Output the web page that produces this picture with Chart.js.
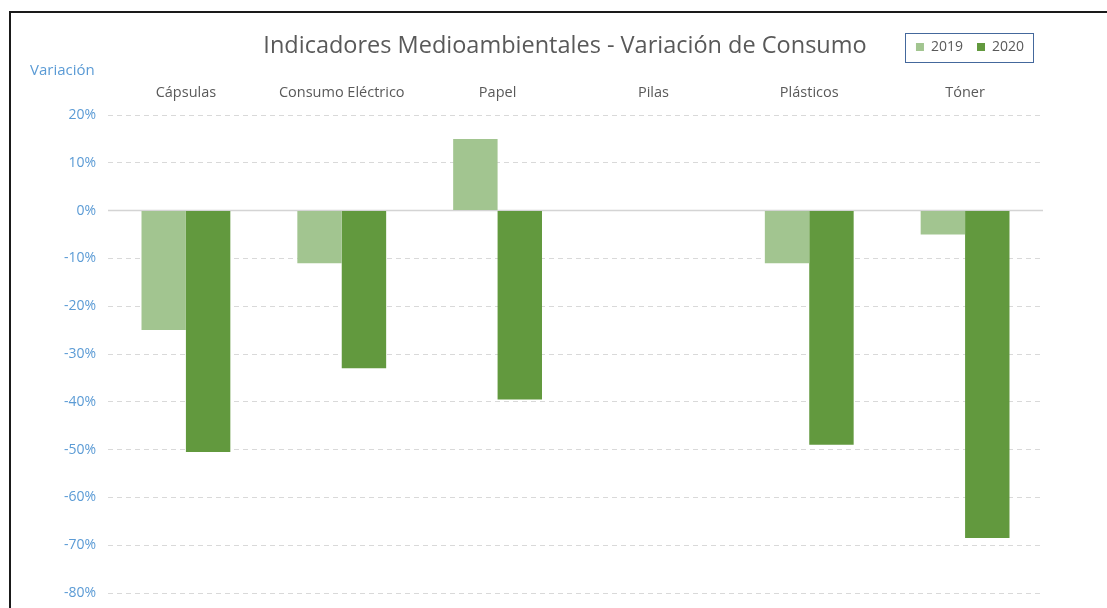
<!DOCTYPE html>
<html>
<head>
<meta charset="utf-8">
<script src="https://cdn.jsdelivr.net/npm/chart.js@4"></script>
<style>
  body { margin: 0; background: #fff; }
  #wrap { position: relative; width: 1107px; height: 608px; }
  #frame { position: absolute; left: 9px; top: 11px; width: 1110px; height: 620px;
           border-left: 2px solid #1a1a1a; border-top: 2px solid #1a1a1a; pointer-events: none; }
</style>
</head>
<body>
<div id="wrap">
  <canvas id="chart" width="1107" height="608"></canvas>
  <div id="frame"></div>
</div>
<script>
// chart data
const categories = ['Cápsulas', 'Consumo Eléctrico', 'Papel', 'Pilas', 'Plásticos', 'Tóner'];
const values2019 = [-25, -11, 15, null, -11, -5];
const values2020 = [-50.5, -33, -39.5, null, -49, -68.5];
const yTicks = [20, 10, 0, -10, -20, -30, -40, -50, -60, -70, -80];

const FONT = "'Open Sans', 'DejaVu Sans', sans-serif";

// title, axis caption, zero line and legend frame
const extras = {
    id: 'extras',
    afterLayout(chart) {
        // pull the legend items a bit in from the right edge
        chart.legend.right -= 5;
    },
    beforeDatasetsDraw(chart) {
        const ctx = chart.ctx;
        const y = chart.scales.y.getPixelForValue(0);
        ctx.save();
        ctx.strokeStyle = '#d4d4d4';
        ctx.lineWidth = 1.5;
        ctx.beginPath();
        ctx.moveTo(chart.chartArea.left, y);
        ctx.lineTo(chart.chartArea.right, y);
        ctx.stroke();
        ctx.restore();
    },
    afterDraw(chart) {
        const ctx = chart.ctx;
        ctx.save();
        ctx.fillStyle = '#595959';
        ctx.font = '23.5px ' + FONT;
        ctx.textAlign = 'center';
        ctx.textBaseline = 'middle';
        ctx.fillText('Indicadores Medioambientales - Variación de Consumo', 565, 46);
        ctx.fillStyle = '#5b9bd5';
        ctx.font = '15px ' + FONT;
        ctx.textAlign = 'left';
        ctx.fillText('Variación', 30, 71);

        const boxes = chart.legend.legendHitBoxes;
        if (boxes && boxes.length) {
            const l = Math.min(...boxes.map(b => b.left));
            const r = Math.max(...boxes.map(b => b.left + b.width));
            const t = Math.min(...boxes.map(b => b.top));
            const b = Math.max(...boxes.map(b => b.top + b.height));
            ctx.strokeStyle = '#44689c';
            ctx.lineWidth = 1;
            ctx.strokeRect(Math.round(l - 11) + 0.5, Math.round(t - 7) + 0.5, Math.round(r - l + 20), Math.round(b - t + 15));
        }
        ctx.restore();
    }
};

new Chart(document.getElementById('chart'), {
    type: 'bar',
    data: {
        labels: categories,
        datasets: [
            { label: '2019', data: values2019, backgroundColor: '#a2c590' },
            { label: '2020', data: values2020, backgroundColor: '#62993e' }
        ]
    },
    options: {
        responsive: false,
        animation: false,
        layout: { padding: { top: 26, left: 20, right: 64, bottom: 15 } },
        datasets: { bar: { barPercentage: 1, categoryPercentage: 0.57 } },
        plugins: {
            title: { display: false },
            tooltip: { enabled: false },
            legend: {
                position: 'top',
                align: 'end',
                labels: {
                    boxWidth: 8,
                    boxHeight: 8,
                    padding: 14,
                    color: '#595959',
                    font: { family: FONT, size: 14 }
                }
            }
        },
        scales: {
            x: {
                position: 'top',
                grid: { display: false },
                border: { display: false },
                ticks: { color: '#595959', font: { family: FONT, size: 14.5 }, padding: 5 },
                afterFit(scale) { scale.height = 51; }
            },
            y: {
                min: -80,
                max: 20,
                afterBuildTicks(scale) { scale.ticks = yTicks.map(v => ({ value: v })); },
                grid: { color: '#d9d9d9', lineWidth: 1, drawTicks: false },
                border: { display: false, dash: [5, 4] },
                ticks: {
                    color: '#5b9bd5',
                    font: { family: FONT, size: 14 },
                    padding: 12,
                    callback: v => v + '%'
                },
                afterFit(scale) {
                    scale.width = 88;
                    scale.paddingTop = 0;
                    scale.paddingBottom = 0;
                }
            }
        }
    },
    plugins: [extras]
});
</script>
</body>
</html>
